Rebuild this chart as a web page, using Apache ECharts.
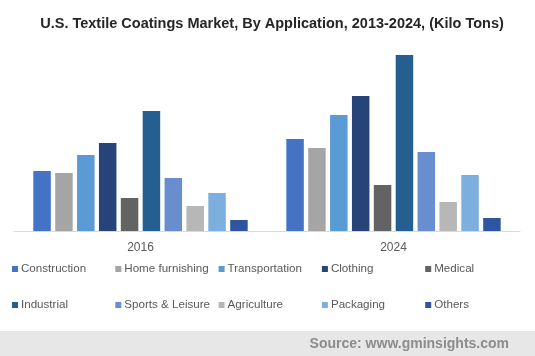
<!DOCTYPE html>
<html><head><meta charset="utf-8">
<script src="https://cdn.jsdelivr.net/npm/echarts@6/dist/echarts.min.js"></script>
<style>html,body{margin:0;padding:0;background:#fff;}#c{width:535px;height:356px;}</style>
</head><body><div id="c"></div>
<script>
const categories = ['2016', '2024'];
const seriesNames = ['Construction', 'Home furnishing', 'Transportation', 'Clothing', 'Medical',
  'Industrial', 'Sports & Leisure', 'Agriculture', 'Packaging', 'Others'];
const construction = [60, 92];
const homeFurnishing = [58, 83];
const transportation = [76, 116];
const clothing = [88, 135];
const medical = [33, 46];
const industrial = [120, 176];
const sportsLeisure = [53, 79];
const agriculture = [25, 29];
const packaging = [38, 56];
const others = [11, 13];
const seriesValues = [construction, homeFurnishing, transportation, clothing, medical,
  industrial, sportsLeisure, agriculture, packaging, others];
const colors = ['#4472C4', '#A5A5A5', '#5B9BD5', '#264478', '#636363',
  '#255E91', '#698ED0', '#B7B7B7', '#7CAFDD', '#2F55A0'];

const font = '"Liberation Sans", Arial, sans-serif';
const chart = echarts.init(document.getElementById('c'));
const legendCols = [12, 115.3, 218.6, 321.9, 425.2];
const legends = seriesNames.map((n, i) => ({
  orient: 'horizontal', left: legendCols[i % 5], top: i < 5 ? 263 : 299, padding: 0,
  itemWidth: 6, itemHeight: 6, icon: 'rect',
  data: [n],
  textStyle: { fontFamily: font, fontSize: 11.6, color: '#595959', padding: [0, 0, 0, -2] }
}));
chart.setOption({
  animation: false,
  color: colors,
  title: {
    text: 'U.S. Textile Coatings Market, By Application, 2013-2024, (Kilo Tons)',
    left: 267, textAlign: 'center', top: 11,
    textStyle: { fontFamily: font, fontSize: 14.5, fontWeight: 'bold', color: '#262626' }
  },
  legend: legends,
  grid: { left: 14, right: 15, top: 31, bottom: 125 },
  xAxis: {
    type: 'category', data: categories,
    axisLine: { lineStyle: { color: '#d9d9d9', width: 1 } },
    axisTick: { show: false },
    axisLabel: { fontFamily: font, fontSize: 12, color: '#595959', margin: 11 }
  },
  yAxis: { type: 'value', min: 0, max: 200, show: false, splitLine: { show: false } },
  series: seriesNames.map((n, i) => ({
    name: n, type: 'bar', data: seriesValues[i], barWidth: 17.5, barGap: '25%',
    itemStyle: { color: colors[i] }
  })),
  graphic: [
    { type: 'rect', left: 0, top: 331, shape: { width: 535, height: 25 }, style: { fill: '#e7e7e7' }, silent: true },
    { type: 'text', right: 26, top: 337, style: { text: 'Source: www.gminsights.com', font: 'bold 14px ' + font, fill: '#8c8c8c' } }
  ]
});
</script></body></html>
